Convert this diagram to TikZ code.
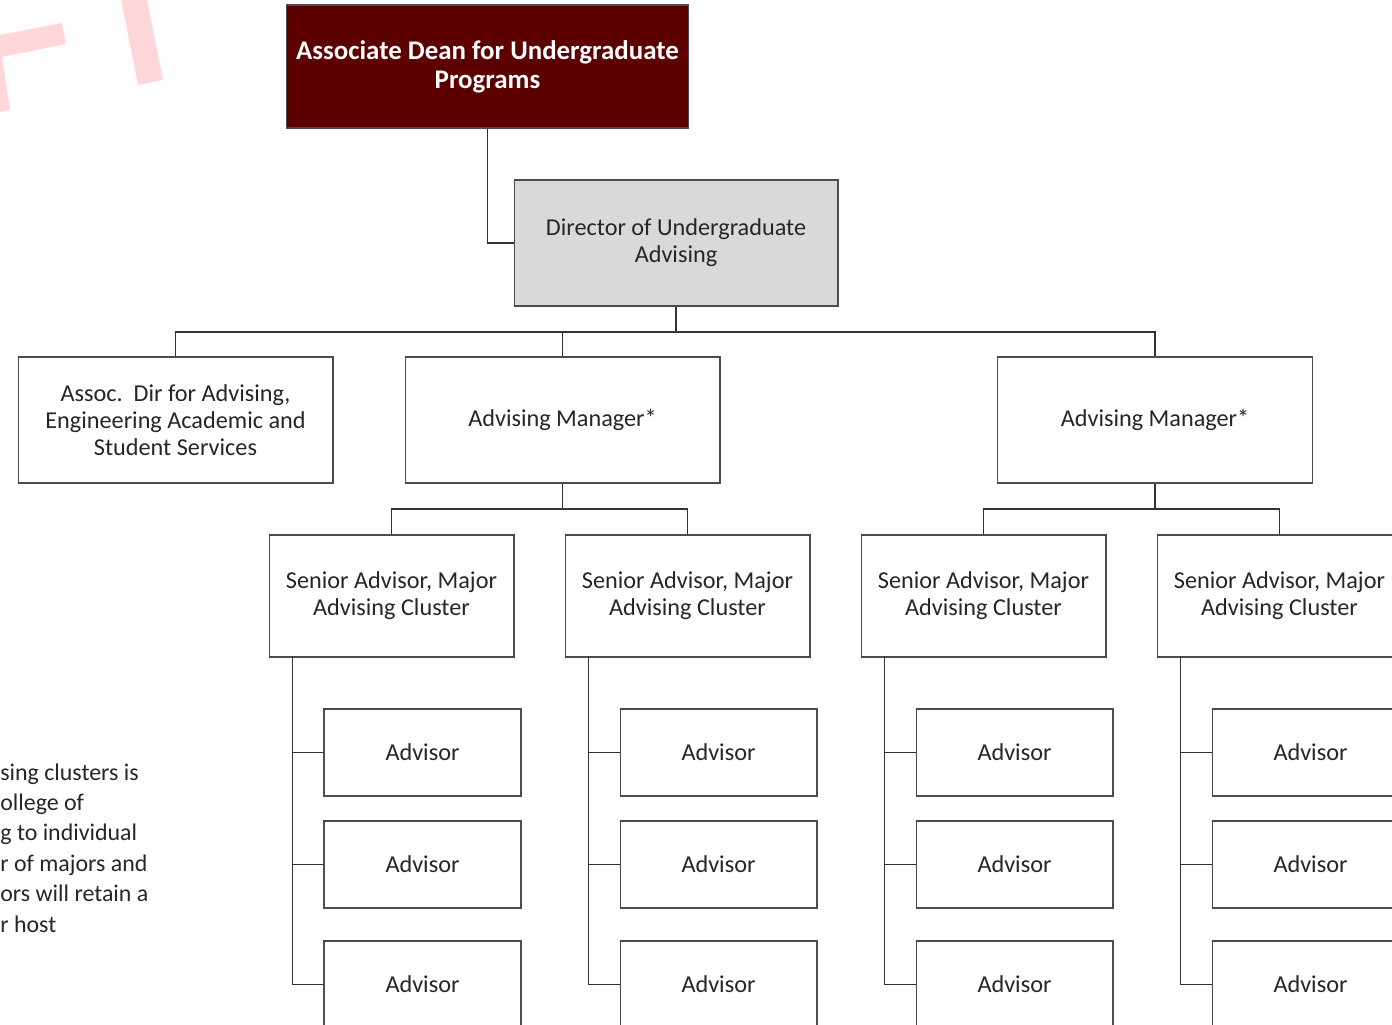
\documentclass[tikz,border=0pt]{standalone}
\usepackage{fontspec}
\setmainfont{Carlito}
\usetikzlibrary{positioning}
\definecolor{deanred}{RGB}{92,0,0}
\definecolor{dirgray}{RGB}{217,217,217}
\definecolor{wmark}{RGB}{255,214,217}

\begin{document}
\begin{tikzpicture}[x=0.02cm, y=-0.02cm,
		box/.style={draw=black!70, line width=.6pt, fill=white, text=black!85, align=center, inner sep=2pt, font=\fontsize{13.8}{15.3}\selectfont},
		unitbox/.style={box, minimum width=6.3cm, minimum height=2.52cm},
		senior/.style={box, minimum width=4.9cm, minimum height=2.44cm},
		advisor/.style={box, minimum width=3.94cm, minimum height=1.74cm},
		link/.style={draw=black!80, line width=.6pt}]
	\useasboundingbox (0,0) rectangle (1392,1024);
	% watermark
	\fill[wmark] (0,35) -- (62,23) -- (66,44) -- (2,57) -- (10,110) -- (0,112) -- cycle;
	\fill[wmark] (121,0) -- (147,0) -- (163,80) -- (138,85) -- cycle;
	% note at the left
	\node[anchor=west, align=left, inner sep=0, text=black!85, font=\fontsize{13.6}{17.35}\selectfont] (note) at (0,848) {sing clusters is\\ollege of\\g to individual\\r of majors and\\ors will retain a\\r host};
	% top of the chart
	\node[box, fill=deanred, text=white, font=\bfseries\fontsize{15.3}{16.4}\selectfont, minimum width=8.06cm, minimum height=2.46cm] (dean) at (487.5,66.5) {Associate Dean for Undergraduate\\Programs};
	\node[box, fill=dirgray, minimum width=6.48cm, minimum height=2.52cm] (dir) at (676,243) {Director of Undergraduate\\Advising};
	\draw[link] (dean.south) |- (dir.west);
	\node[unitbox] (assoc) at (175.5,420) {Assoc.\ \ Dir for Advising,\\Engineering Academic and\\Student Services};
	\node[unitbox] (am1) at (562.5,420) {Advising Manager*};
	\node[unitbox] (am2) at (1155,420) {Advising Manager*};
	\coordinate (bar) at (676,332);
	\draw[link] (dir.south) -- (bar) -| (assoc.north);
	\draw[link] (bar) -| (am1.north);
	\draw[link] (bar) -| (am2.north);
	% clusters and advisors
	\foreach \c/\x in {1/391.5,2/687.5,3/983.5,4/1279.5} {
		\node[senior] (sa\c) at (\x,596) {Senior Advisor, Major\\Advising Cluster};
		\foreach \r/\y in {1/752.5,2/864.5,3/984.5} {
			\node[advisor] (adv\c\r) at (\x+31,\y) {Advisor};
			\draw[link] ([xshift=.48cm]sa\c.south west) |- (adv\c\r.west);
		}
	}
	\coordinate (bar1) at (562.5,509);
	\coordinate (bar2) at (1155,509);
	\draw[link] (am1.south) -- (bar1) -| (sa1.north);
	\draw[link] (bar1) -| (sa2.north);
	\draw[link] (am2.south) -- (bar2) -| (sa3.north);
	\draw[link] (bar2) -| (sa4.north);
\end{tikzpicture}
\end{document}
